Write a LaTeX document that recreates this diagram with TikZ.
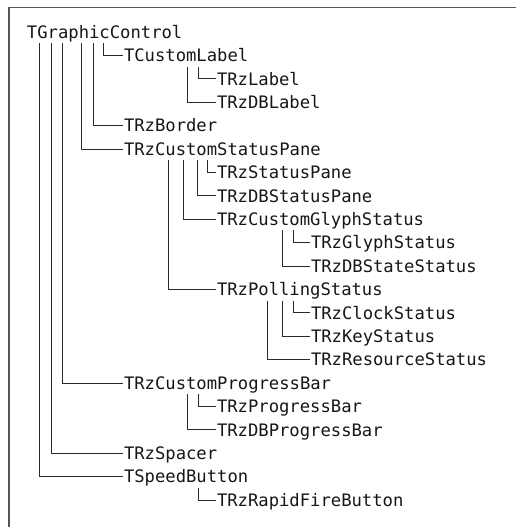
\documentclass[tikz,border=0pt]{standalone}
\usepackage{fontspec}
\newfontfamily\treefont{DejaVu Sans Mono}
\usetikzlibrary{calc}
\definecolor{inkc}{HTML}{161616}
\definecolor{linec}{HTML}{2A2A2A}
\definecolor{framec}{HTML}{555555}
\tikzset{
  lbl/.style={anchor=base west, inner sep=0pt, outer sep=0pt, text=inkc,
              font=\treefont\fontsize{17.2}{20}\selectfont},
  conn/.style={draw=linec, line width=0.9pt},
  framel/.style={draw=framec, line width=1.3pt}
}
\newcommand\branch[3]{%
  \draw[conn] let \p1=(#1.base), \p2=(#2.base west) in
    (#3pt,\y1-5pt) |- (\x2-1pt,\y2+6.2pt);}
\begin{document}
\begin{tikzpicture}
\useasboundingbox (0pt,0pt) rectangle (516pt,-527pt);
\draw[framel] (516pt,-7.5pt) -- (9pt,-7.5pt) -- (9pt,-527pt);
\node[lbl] (n0)  at (27pt,-38.2pt)  {TGraphicControl};
\node[lbl] (n1)  at (124pt,-61.6pt) {TCustomLabel};
\node[lbl] (n2)  at (217pt,-85.0pt) {TRzLabel};
\node[lbl] (n3)  at (217pt,-108.4pt) {TRzDBLabel};
\node[lbl] (n4)  at (124pt,-131.8pt) {TRzBorder};
\node[lbl] (n5)  at (124pt,-155.2pt) {TRzCustomStatusPane};
\node[lbl] (n6)  at (217pt,-178.6pt) {TRzStatusPane};
\node[lbl] (n7)  at (217pt,-202.0pt) {TRzDBStatusPane};
\node[lbl] (n8)  at (217pt,-225.4pt) {TRzCustomGlyphStatus};
\node[lbl] (n9)  at (311pt,-248.8pt) {TRzGlyphStatus};
\node[lbl] (n10) at (311pt,-272.2pt) {TRzDBStateStatus};
\node[lbl] (n11) at (217pt,-295.6pt) {TRzPollingStatus};
\node[lbl] (n12) at (311pt,-319.0pt) {TRzClockStatus};
\node[lbl] (n13) at (311pt,-342.4pt) {TRzKeyStatus};
\node[lbl] (n14) at (311pt,-365.8pt) {TRzResourceStatus};
\node[lbl] (n15) at (124pt,-389.2pt) {TRzCustomProgressBar};
\node[lbl] (n16) at (217pt,-412.6pt) {TRzProgressBar};
\node[lbl] (n17) at (217pt,-436.0pt) {TRzDBProgressBar};
\node[lbl] (n18) at (124pt,-459.4pt) {TRzSpacer};
\node[lbl] (n19) at (124pt,-482.8pt) {TSpeedButton};
\node[lbl] (n20) at (217pt,-506.2pt) {TRzRapidFireButton};
\branch{n0}{n1}{103}
\branch{n1}{n2}{198}
\branch{n1}{n3}{187}
\branch{n0}{n4}{93}
\branch{n0}{n5}{81}
\branch{n5}{n6}{207}
\branch{n5}{n7}{197.5}
\branch{n5}{n8}{183}
\branch{n8}{n9}{293}
\branch{n8}{n10}{282}
\branch{n5}{n11}{168}
\branch{n11}{n12}{293}
\branch{n11}{n13}{282}
\branch{n11}{n14}{267}
\branch{n0}{n15}{62.5}
\branch{n15}{n16}{198}
\branch{n15}{n17}{187}
\branch{n0}{n18}{51}
\branch{n0}{n19}{39}
\branch{n19}{n20}{198}
\end{tikzpicture}
\end{document}
